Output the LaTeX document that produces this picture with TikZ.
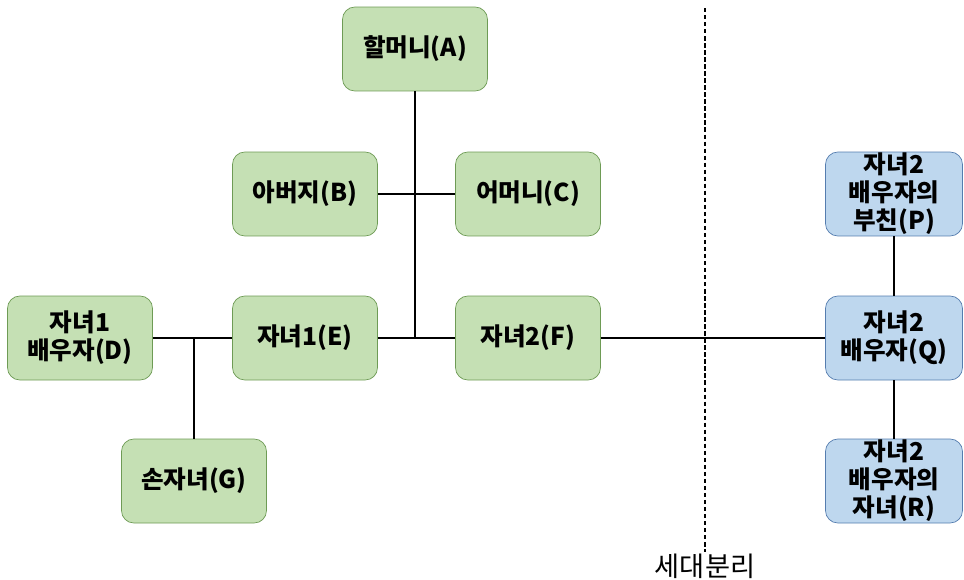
\documentclass[tikz,border=0pt]{standalone}
\usepackage{fontspec}
\setmainfont{Noto Sans CJK KR}
\definecolor{boxgreen}{RGB}{197,224,180}
\definecolor{linegreen}{RGB}{110,155,85}
\definecolor{boxblue}{RGB}{190,215,238}
\definecolor{lineblue}{RGB}{85,125,175}
\begin{document}
\begin{tikzpicture}[x=0.02cm,y=-0.02cm,font=\fontsize{14}{16}\selectfont\bfseries,
  person/.style={draw=linegreen,fill=boxgreen,rounded corners=7pt,minimum width=2.9cm,minimum height=1.68cm,align=center,inner xsep=2pt,inner ysep=0pt},
  inlaw/.style={person,draw=lineblue,fill=boxblue,minimum width=2.74cm},
  tie/.style={line width=0.8pt}]
				\useasboundingbox (0,0) rectangle (964,579);
				\node[person] (A) at (415,49) {할머니(A)};
				\node[person] (B) at (305,194) {아버지(B)};
				\node[person] (C) at (528,194) {어머니(C)};
				\node[person] (D) at (80,338) {자녀1\\배우자(D)};
				\node[person] (E) at (305,338) {자녀1(E)};
				\node[person] (F) at (528,338) {자녀2(F)};
				\node[person] (G) at (194,481) {손자녀(G)};
				\node[inlaw] (P) at (894,194) {자녀2\\배우자의\\부친(P)};
				\node[inlaw] (Q) at (894,338) {자녀2\\배우자(Q)};
				\node[inlaw] (R) at (894,481) {자녀2\\배우자의\\자녀(R)};
				% family lines
				\draw[tie] (A.south) -- (A.south |- F.west);
				\draw[tie] (B) -- (C);
				\draw[tie] (E) -- (F);
				\draw[tie] (D) -- (E);
				\draw[tie] (G.north) -- (G.north |- D.east);
				\draw[tie] (F) -- (Q);
				\draw[tie] (P) -- (Q);
				\draw[tie] (Q) -- (R);
				% generation split
				\coordinate (sepTop) at (705,8);
				\node[font=\fontsize{15.5}{18}\selectfont,inner sep=1pt] (sep) at (705,566) {세대분리};
				\draw[dashed,line width=0.7pt,dash pattern=on 2.5pt off 1.5pt] (sepTop) -- (sep.north);
			\end{tikzpicture}
\end{document}
